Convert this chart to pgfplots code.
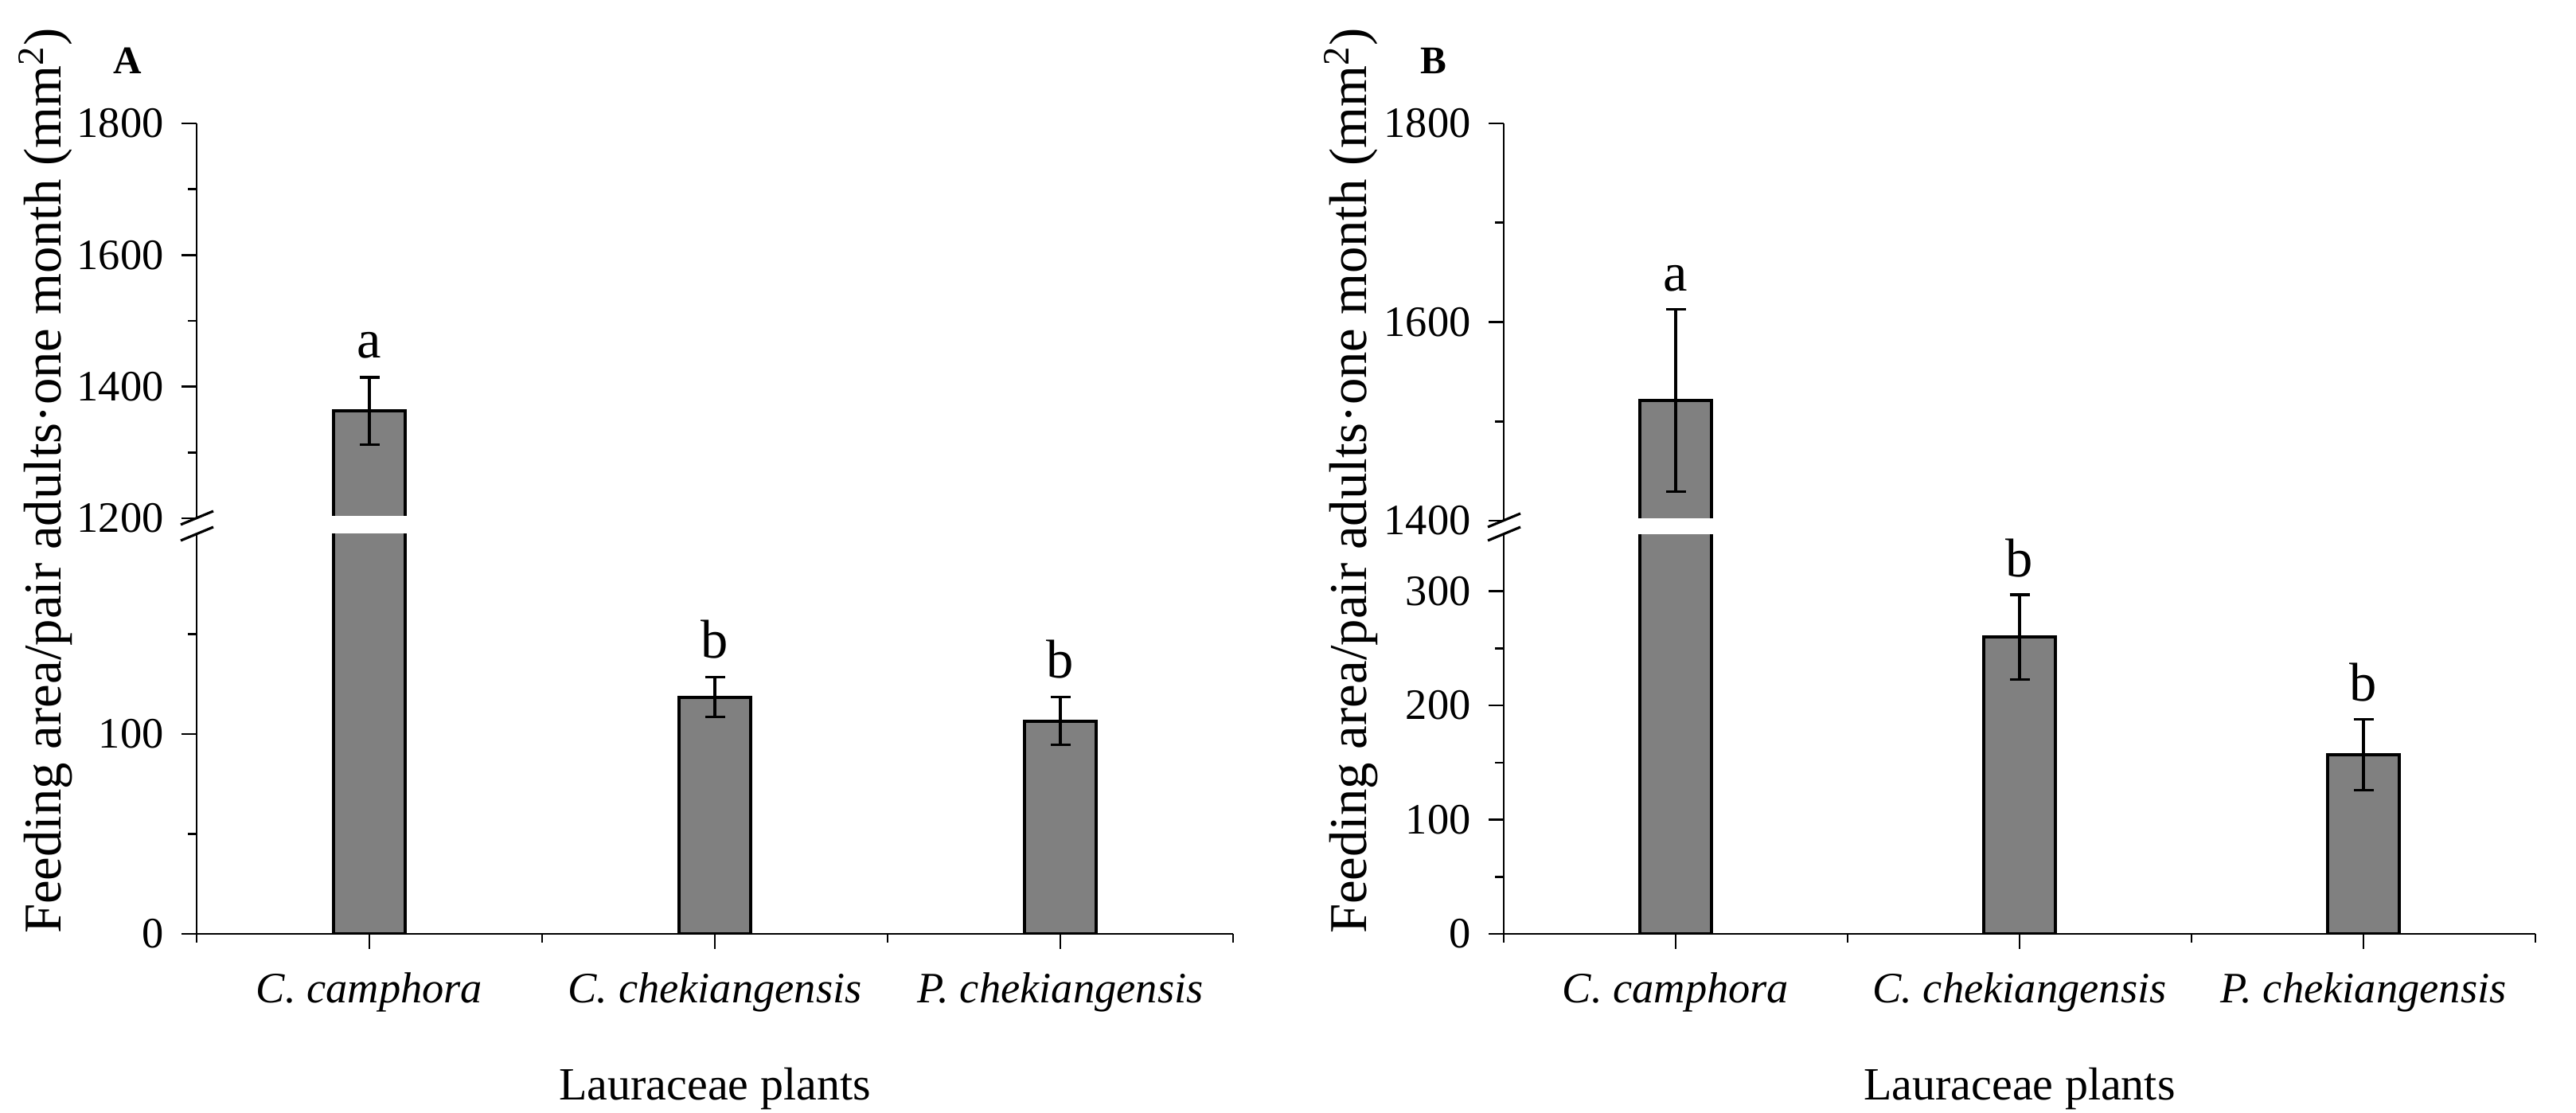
\documentclass[border=0pt]{standalone}
\usepackage{fontspec}
\setmainfont{Liberation Serif}
\usepackage{pgfplots}
\pgfplotsset{compat=1.18}
\usepackage{pgfplotstable}

\definecolor{barg}{RGB}{128,128,128}

\pgfplotstableread{
x y e
1 1363 51
2 118.5 10
3 106.5 12
}\dataA
\pgfplotstableread{
x y e
1 1521 92
2 260 37
3 157 31
}\dataB

\pgfplotsset{
  brk/.style={
    scale only axis, anchor=south west,
    xmin=0.5, xmax=3.5,
    axis y line*=left,
    tick align=outside,
    major tick length=0.19cm, minor tick length=0.11cm,
    axis line style={line width=0.75pt},
    every tick/.style={line width=0.75pt, black},
    scaled y ticks=false,
    /pgf/number format/1000 sep={},
    /pgf/number format/assume math mode=true,
    yticklabel style={font=\fontsize{15.5}{18}\selectfont, xshift=-0.1cm},
    xticklabel style={font=\fontsize{15.5}{18}\selectfont\itshape, yshift=-0.17cm},
    xlabel style={font=\fontsize{16.5}{19}\selectfont, yshift=-0.46cm},
    clip mode=individual,
  },
  bars/.style={
    ybar, bar width=0.9cm, fill=barg, draw=black, line width=1.15pt,
    error bars/.cd, y dir=both, y explicit,
    error bar style={line width=0.9pt, black},
    error mark options={rotate=90, mark size=0.125cm, line width=0.9pt, black},
  },
}
\tikzset{lett/.style={anchor=base, font=\fontsize{19.5}{22}\selectfont}}

\begin{document}
\begin{tikzpicture}
\useasboundingbox (0,0) rectangle (32.36,13.98);

% ---- panel A ----
\begin{axis}[brk, name=Alow, at={(2.47cm,2.25cm)}, width=13.02cm, height=5.02cm,
  ymin=0, ymax=200, ytick={0,100}, minor ytick={50,150},
  axis x line*=bottom, xtick={1,2,3}, minor xtick={0.5,1.5,2.5,3.5},
  xticklabels={C. camphora, C. chekiangensis, P. chekiangensis},
  xlabel={Lauraceae plants}]
  \addplot[bars] table[x=x, y=y, y error=e] {\dataA};
  \node[lett] at ([yshift=0.24cm]axis cs:2,128.5) {b};
  \node[lett] at ([yshift=0.24cm]axis cs:3,118.5) {b};
\end{axis}
\begin{axis}[brk, name=Aup, at={(2.47cm,7.47cm)}, width=13.02cm, height=4.96cm,
  ymin=1200, ymax=1800, ytick={1200,1400,1600,1800}, minor ytick={1300,1500,1700},
  axis x line=none, xtick=\empty]
  \addplot[skip coords between index={1}{3}, bars] table[x=x, y=y, y error=e] {\dataA};
  \fill[white] (axis cs:0.85,1200) rectangle ([yshift=0.03cm]axis cs:1.15,1200);
  \node[lett] at ([yshift=0.25cm]axis cs:1,1414) {a};
\end{axis}

% ---- panel B ----
\begin{axis}[brk, name=Blow, at={(18.89cm,2.25cm)}, width=12.96cm, height=5.02cm,
  ymin=0, ymax=350, ytick={0,100,200,300}, minor ytick={50,150,250},
  axis x line*=bottom, xtick={1,2,3}, minor xtick={0.5,1.5,2.5,3.5},
  xticklabels={C. camphora, C. chekiangensis, P. chekiangensis},
  xlabel={Lauraceae plants}]
  \addplot[bars] table[x=x, y=y, y error=e] {\dataB};
  \node[lett] at ([yshift=0.23cm]axis cs:2,297) {b};
  \node[lett] at ([yshift=0.23cm]axis cs:3,188) {b};
\end{axis}
\begin{axis}[brk, name=Bup, at={(18.89cm,7.44cm)}, width=12.96cm, height=4.99cm,
  ymin=1400, ymax=1800, ytick={1400,1600,1800}, minor ytick={1500,1700},
  axis x line=none, xtick=\empty]
  \addplot[skip coords between index={1}{3}, bars] table[x=x, y=y, y error=e] {\dataB};
  \fill[white] (axis cs:0.85,1400) rectangle ([yshift=0.03cm]axis cs:1.15,1400);
  \node[lett] at ([yshift=0.23cm]axis cs:1,1613) {a};
\end{axis}

% break marks
\foreach \p in {Aup.south west, Alow.north west, Bup.south west, Blow.north west}
  \draw[line width=0.9pt] ([xshift=-0.2cm, yshift=-0.08cm]\p) -- ++(0.41cm,0.17cm);

% axis titles and panel letters
\foreach \xx in {0.57, 16.97}
  \node[rotate=90, font=\fontsize{19}{22}\selectfont] at (\xx,7.94)
    {Feeding area/pair adults·one month (mm\textsuperscript{2})};
\node[font=\fontsize{14}{16}\selectfont\bfseries] at (1.60,13.22) {A};
\node[font=\fontsize{14}{16}\selectfont\bfseries] at (18.01,13.22) {B};
\end{tikzpicture}
\end{document}
